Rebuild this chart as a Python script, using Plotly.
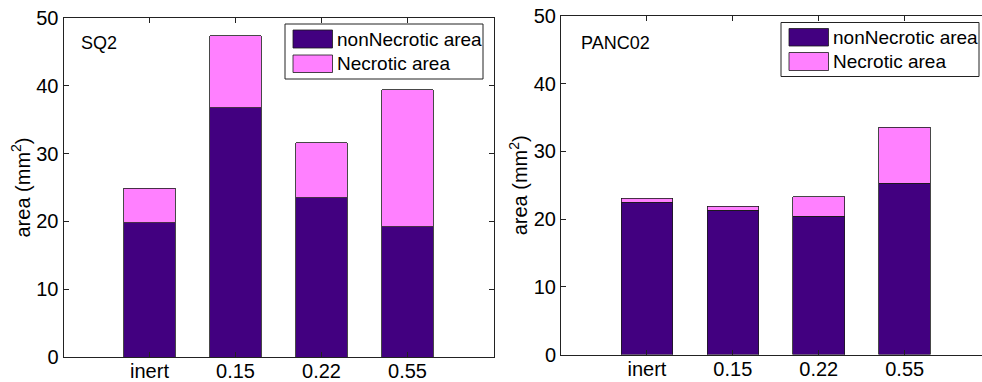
import plotly.graph_objects as go

# Tumour area by treatment group, two cell lines
categories = ["inert", "0.15", "0.22", "0.55"]
sq2_non_necrotic = [19.8, 36.8, 23.5, 19.2]
sq2_necrotic = [5.1, 10.6, 8.1, 20.2]
panc_non_necrotic = [22.5, 21.3, 20.4, 25.3]
panc_necrotic = [0.55, 0.6, 2.9, 8.3]

series_names = ["nonNecrotic area", "Necrotic area"]
DARK = "#420080"
PINK = "#FF80FF"
EDGE = "#1a1a1a"
FONT = "Liberation Sans, Arial, sans-serif"

W, H = 982, 382
x_pos = list(range(1, len(categories) + 1))


def px_x(v):
    return v / W


def px_y(v):
    return 1 - v / H


fig = go.Figure()

panels = [
    ("x", "y", sq2_non_necrotic, sq2_necrotic),
    ("x2", "y2", panc_non_necrotic, panc_necrotic),
]
for xa, ya, non_nec, nec in panels:
    fig.add_trace(go.Bar(x=x_pos, y=non_nec, name=series_names[0], xaxis=xa, yaxis=ya,
                         marker=dict(color=DARK, line=dict(color=EDGE, width=0.8)),
                         showlegend=False))
    fig.add_trace(go.Bar(x=x_pos, y=nec, name=series_names[1], xaxis=xa, yaxis=ya,
                         marker=dict(color=PINK, line=dict(color=EDGE, width=0.8)),
                         showlegend=False))

axis_common = dict(showline=True, linecolor="#222222", linewidth=1, ticks="inside",
                   ticklen=5, tickcolor="#222222", showgrid=False, zeroline=False,
                   automargin=False,
                   tickfont=dict(family=FONT, size=20, color="#000000"))
xaxis_common = dict(axis_common, ticklabelstandoff=-4, tickvals=x_pos,
                    ticktext=categories, mirror="ticks")

ytitle = dict(text="area (mm<sup>2</sup>)", standoff=0, font=dict(family=FONT, size=20))

fig.update_layout(
    width=W, height=H, barmode="stack", bargap=0.4,
    margin=dict(l=0, r=0, t=0, b=0),
    paper_bgcolor="white", plot_bgcolor="white",
    font=dict(family=FONT, color="#000000"),
    xaxis=dict(domain=[px_x(63.5), px_x(493.5)], range=[0, 5], anchor="y", **xaxis_common),
    yaxis=dict(domain=[px_y(357), px_y(18)], range=[0, 50], dtick=10, mirror="ticks",
               anchor="x", title=ytitle, **axis_common),
    xaxis2=dict(domain=[px_x(561), 1.0], range=[0, 4.9], anchor="y2", **xaxis_common),
    yaxis2=dict(domain=[px_y(354.5), px_y(16)], range=[0, 50], dtick=10, mirror=False,
                anchor="x2", title=ytitle, **axis_common),
)

# Panel labels
fig.add_annotation(text="SQ2", xref="paper", yref="paper", x=px_x(79), y=px_y(43),
                   xanchor="left", yanchor="middle", showarrow=False,
                   font=dict(family=FONT, size=18))
fig.add_annotation(text="PANC02", xref="paper", yref="paper", x=px_x(579), y=px_y(43),
                   xanchor="left", yanchor="middle", showarrow=False,
                   font=dict(family=FONT, size=18))

# Boxed legends with large swatches, one per panel
legends = [
    dict(box=(285, 24, 483, 79), sw_x=(293, 332.5), sw_y=[(30, 48), (55, 72.5)], tx=335),
    dict(box=(781, 22.5, 979, 76.5), sw_x=(789, 828.5), sw_y=[(28.5, 46), (52.5, 70.5)], tx=831),
]
for lg in legends:
    x0, y0, x1, y1 = lg["box"]
    fig.add_shape(type="rect", xref="paper", yref="paper",
                  x0=px_x(x0), x1=px_x(x1), y0=px_y(y1), y1=px_y(y0),
                  line=dict(color="#222222", width=1), fillcolor="white")
    for (sy0, sy1), color, name in zip(lg["sw_y"], [DARK, PINK], series_names):
        fig.add_shape(type="rect", xref="paper", yref="paper",
                      x0=px_x(lg["sw_x"][0]), x1=px_x(lg["sw_x"][1]),
                      y0=px_y(sy1), y1=px_y(sy0),
                      line=dict(color=EDGE, width=0.8), fillcolor=color)
        fig.add_annotation(text=name, xref="paper", yref="paper", x=px_x(lg["tx"]),
                           y=px_y((sy0 + sy1) / 2), xanchor="left", yanchor="middle",
                           showarrow=False, font=dict(family=FONT, size=19))

fig.write_html("out.html")
